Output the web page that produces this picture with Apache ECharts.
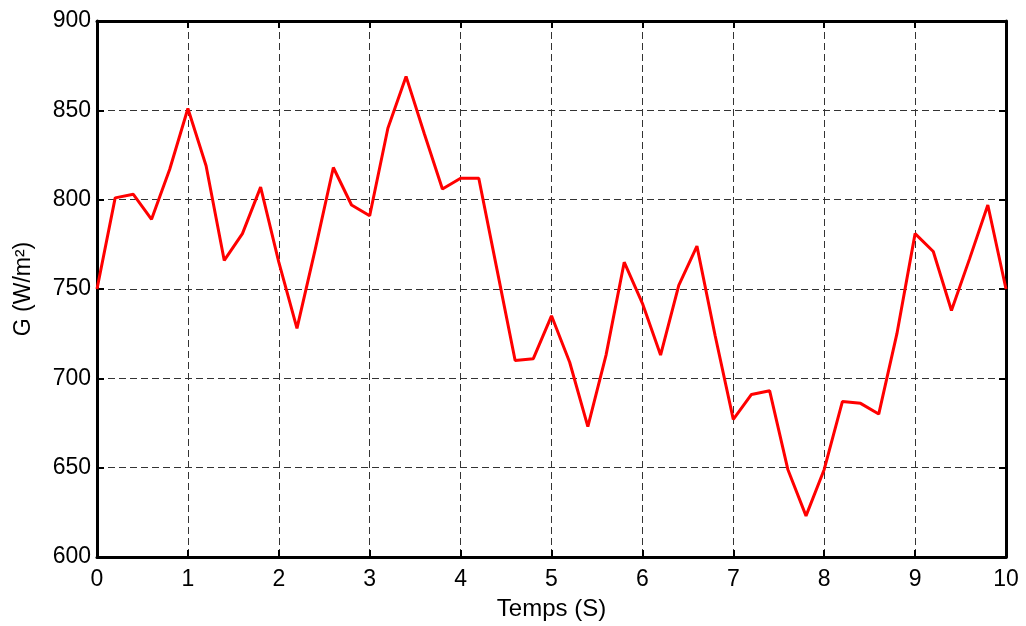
<!DOCTYPE html>
<html lang="fr">
<head>
<meta charset="UTF-8">
<title>Irradiance</title>
<style>
  html, body { margin: 0; padding: 0; background: #fff; }
  #main { width: 1026px; height: 626px; }
</style>
</head>
<body>
<div id="main"></div>
<script src="https://cdn.jsdelivr.net/npm/echarts@6/dist/echarts.min.js"></script>
<script>
// temps (s)
var temps = [0, 0.2, 0.4, 0.6, 0.8, 1, 1.2, 1.4, 1.6, 1.8, 2, 2.2, 2.4, 2.6, 2.8, 3, 3.2, 3.4, 3.6, 3.8,
  4, 4.2, 4.4, 4.6, 4.8, 5, 5.2, 5.4, 5.6, 5.8, 6, 6.2, 6.4, 6.6, 6.8, 7, 7.2, 7.4, 7.6, 7.8,
  8, 8.2, 8.4, 8.6, 8.8, 9, 9.2, 9.4, 9.6, 9.8, 10];
// irradiance G (W/m²)
var irradiance = [750, 801, 803, 789, 817, 851, 819, 766, 781, 807, 765, 728, 772, 818, 797, 791, 840, 869, 837, 806,
  812, 812, 761, 710, 711, 735, 709, 673, 713, 765, 742, 713, 752, 774, 724, 677, 691, 693, 649, 623,
  649, 687, 686, 680, 725, 781, 771, 738, 767, 797, 750];

var xTicks = { min: 0, max: 10, interval: 1 };
var yTicks = { min: 600, max: 900, interval: 50 };

var seriesData = temps.map(function (t, i) { return [t, irradiance[i]]; });

var font = 'Liberation Sans, Arial, sans-serif';
var frameLine = { show: true, onZero: false, lineStyle: { color: '#000', width: 3 } };
var inTicks = { show: true, inside: true, length: 7, lineStyle: { color: '#000', width: 2 } };
var dashGrid = { show: true, lineStyle: { color: '#333', width: 1, type: [7, 4] } };

var myChart = echarts.init(document.getElementById('main'));
var option = {
  animation: false,
  backgroundColor: '#fff',
  grid: { left: 97, right: 20, top: 21, bottom: 68 },
  xAxis: [{
    type: 'value',
    min: xTicks.min, max: xTicks.max, interval: xTicks.interval,
    name: 'Temps (S)',
    nameLocation: 'middle',
    nameGap: 40,
    nameTextStyle: { color: '#000', fontSize: 24, fontFamily: font },
    axisLine: frameLine,
    axisTick: inTicks,
    axisLabel: { color: '#000', fontSize: 23, fontFamily: font, margin: 11 },
    splitLine: dashGrid
  }, {
    type: 'value', position: 'top',
    min: xTicks.min, max: xTicks.max, interval: xTicks.interval,
    axisLine: frameLine, axisTick: inTicks,
    axisLabel: { show: false }, splitLine: { show: false }
  }],
  yAxis: [{
    type: 'value',
    min: yTicks.min, max: yTicks.max, interval: yTicks.interval,
    name: 'G (W/m²)',
    nameLocation: 'middle',
    nameGap: 62,
    nameTextStyle: { color: '#000', fontSize: 23, fontFamily: font },
    axisLine: frameLine,
    axisTick: inTicks,
    axisLabel: { color: '#000', fontSize: 23, fontFamily: font, margin: 6 },
    splitLine: dashGrid
  }, {
    type: 'value', position: 'right',
    min: yTicks.min, max: yTicks.max, interval: yTicks.interval,
    axisLine: frameLine, axisTick: inTicks,
    axisLabel: { show: false }, splitLine: { show: false }
  }],
  series: [{
    type: 'line',
    data: seriesData,
    showSymbol: false,
    symbol: 'none',
    lineStyle: { color: '#ff0000', width: 3 },
    itemStyle: { color: '#ff0000' },
    z: 5
  }]
};
myChart.setOption(option);
</script>
</body>
</html>
